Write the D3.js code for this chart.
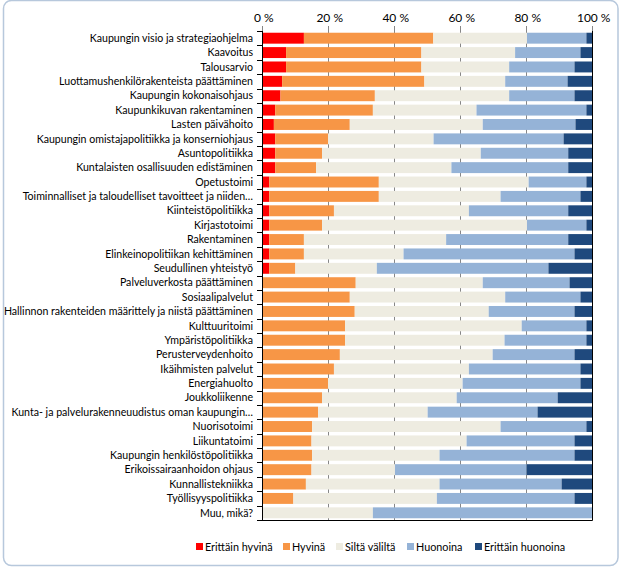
<!DOCTYPE html>
<html>
<head>
<meta charset="utf-8">
<script src="https://cdn.jsdelivr.net/npm/d3@7"></script>
<style>
  html, body { margin: 0; padding: 0; background: #fff; }
  svg text { font-family: Lato, 'Open Sans', sans-serif; fill: #000; }
</style>
</head>
<body>
<div id="chart"></div>
<script>
// categories, top to bottom
const categories = [
  'Kaupungin visio ja strategiaohjelma',
  'Kaavoitus',
  'Talousarvio',
  'Luottamushenkilörakenteista päättäminen',
  'Kaupungin kokonaisohjaus',
  'Kaupunkikuvan rakentaminen',
  'Lasten päivähoito',
  'Kaupungin omistajapolitiikka ja konserniohjaus',
  'Asuntopolitiikka',
  'Kuntalaisten osallisuuden edistäminen',
  'Opetustoimi',
  'Toiminnalliset ja taloudelliset tavoitteet ja niiden…',
  'Kiinteistöpolitiikka',
  'Kirjastotoimi',
  'Rakentaminen',
  'Elinkeinopolitiikan kehittäminen',
  'Seudullinen yhteistyö',
  'Palveluverkosta päättäminen',
  'Sosiaalipalvelut',
  'Hallinnon rakenteiden määrittely ja niistä päättäminen',
  'Kulttuuritoimi',
  'Ympäristöpolitiikka',
  'Perusterveydenhoito',
  'Ikäihmisten palvelut',
  'Energiahuolto',
  'Joukkoliikenne',
  'Kunta- ja palvelurakenneuudistus oman kaupungin…',
  'Nuorisotoimi',
  'Liikuntatoimi',
  'Kaupungin henkilöstöpolitiikka',
  'Erikoissairaanhoidon ohjaus',
  'Kunnallistekniikka',
  'Työllisyyspolitiikka',
  'Muu, mikä?'
];

const seriesNames = ['Erittäin hyvinä', 'Hyvinä', 'Siltä väliltä', 'Huonoina', 'Erittäin huonoina'];
const seriesColors = ['#ff0000', '#f79646', '#eeece1', '#95b3d7', '#1f497d'];

// shares in percent, one array per answer
const erittainHyvina = [12.7, 7.3, 7.3, 6.1, 5.6, 4.0, 3.6, 4.0, 4.0, 4.0, 2.2, 2.2, 2.2, 2.2, 2.2, 2.2, 2.2,
  0, 0, 0, 0, 0, 0, 0, 0, 0, 0, 0, 0, 0, 0, 0, 0, 0];
const hyvina = [39.2, 41.0, 41.0, 43.1, 28.6, 29.6, 23.0, 16.0, 14.2, 12.4, 33.2, 33.2, 19.6, 16.0, 10.5, 10.5, 7.9,
  28.4, 26.6, 28.1, 25.2, 25.2, 23.6, 21.8, 20.0, 18.2, 17.0, 15.2, 15.0, 15.2, 15.0, 13.3, 9.5, 0];
const siltaValilta = [28.4, 28.4, 26.6, 24.5, 40.7, 31.4, 40.3, 32.0, 48.1, 41.0, 45.4, 36.9, 40.9, 62.1, 43.1, 30.2, 24.7,
  38.5, 47.1, 40.6, 53.5, 48.3, 46.3, 40.9, 40.8, 40.8, 33.2, 57.1, 47.0, 38.6, 25.3, 40.5, 43.5, 33.6];
const huonoina = [18.0, 19.8, 19.8, 18.9, 19.8, 33.3, 28.1, 39.4, 26.5, 35.4, 17.5, 24.2, 30.1, 18.0, 37.0, 51.8, 52.0,
  26.3, 22.8, 26.0, 19.6, 24.8, 24.8, 33.8, 35.7, 30.6, 33.3, 26.0, 32.7, 40.9, 39.9, 37.0, 41.7, 66.4];
const erittainHuonoina = [1.7, 3.5, 5.3, 7.4, 5.3, 1.7, 5.0, 8.6, 7.2, 7.2, 1.7, 3.5, 7.2, 1.7, 7.2, 5.3, 13.2,
  6.8, 3.5, 5.3, 1.7, 1.7, 5.3, 3.5, 3.5, 10.4, 16.5, 1.7, 5.3, 5.3, 19.8, 9.2, 5.3, 0];

const xTicks = [0, 20, 40, 60, 80, 100];

const width = 622, height = 567;
const margin = {top: 31, right: 30, bottom: 47, left: 262};
const innerWidth = width - margin.left - margin.right,
      innerHeight = height - margin.top - margin.bottom;

const seriesValues = [erittainHyvina, hyvina, siltaValilta, huonoina, erittainHuonoina];
const rows = categories.map((c, i) => {
  const row = {category: c};
  seriesNames.forEach((s, j) => { row[s] = seriesValues[j][i]; });
  return row;
});

const stacked = d3.stack()
  .keys(seriesNames)
  .offset(d3.stackOffsetExpand)(rows);

const svg = d3.select('#chart')
  .append('svg')
  .attr('width', width)
  .attr('height', height);

// chart frame
svg.append('rect')
  .attr('x', 3.5)
  .attr('y', 0.5)
  .attr('width', 614.5)
  .attr('height', 565)
  .attr('rx', 8)
  .style('fill', '#fff')
  .style('stroke', '#b7c8dc')
  .style('stroke-width', 1.5);

const xScale = d3.scaleLinear()
  .domain([0, 1])
  .range([0, innerWidth]);

const yScale = d3.scaleBand()
  .domain(categories)
  .range([0, innerHeight])
  .paddingInner(0.24)
  .paddingOuter(0.12);

const g = svg.append('g')
  .attr('transform', `translate(${margin.left},${margin.top})`);

// vertical grid lines
g.append('g')
  .classed('grid', true)
  .selectAll('line')
  .data(xTicks)
  .join('line')
  .attr('x1', d => xScale(d / 100) + 0.5)
  .attr('x2', d => xScale(d / 100) + 0.5)
  .attr('y1', 0)
  .attr('y2', innerHeight)
  .style('stroke', '#878787')
  .style('stroke-width', 1);

// the bars
g.append('g')
  .classed('bars', true)
  .selectAll('g')
  .data(stacked)
  .join('g')
  .attr('fill', (d, i) => seriesColors[i])
  .selectAll('rect')
  .data(d => d)
  .join('rect')
  .attr('x', d => xScale(d[0]))
  .attr('width', d => xScale(d[1]) - xScale(d[0]))
  .attr('y', d => yScale(d.data.category))
  .attr('height', yScale.bandwidth());

// top axis with percent labels
const xAxis = d3.axisTop(xScale)
  .tickValues(xTicks.map(d => d / 100))
  .tickFormat(d => `${Math.round(d * 100)} %`)
  .tickSizeInner(5)
  .tickSizeOuter(0)
  .tickPadding(4);

const xAxisG = g.append('g')
  .attr('class', 'x axis')
  .call(xAxis);
xAxisG.select('.domain').remove();
xAxisG.selectAll('line').style('stroke', '#878787');
xAxisG.selectAll('text')
  .style('font-size', '12px')
  .style('font-family', 'Lato, sans-serif')
  .attr('dx', '0.1em');

// left category axis: line plus ticks between bands
const step = yScale.step();
const yAxisG = g.append('g').attr('class', 'y axis');
yAxisG.append('line')
  .attr('x1', 0.5).attr('x2', 0.5)
  .attr('y1', 0).attr('y2', innerHeight)
  .style('stroke', '#000');
yAxisG.selectAll('.btick')
  .data(d3.range(categories.length + 1))
  .join('line')
  .attr('class', 'btick')
  .attr('x1', -5).attr('x2', 0.5)
  .attr('y1', i => Math.round(i * step) + 0.5)
  .attr('y2', i => Math.round(i * step) + 0.5)
  .style('stroke', '#000');

yAxisG.selectAll('text')
  .data(categories)
  .join('text')
  .attr('x', -9)
  .attr('y', d => yScale(d) + yScale.bandwidth() / 2)
  .attr('dy', '0.35em')
  .attr('text-anchor', 'end')
  .style('font-size', '10.6px')
  .text(d => d);

// bottom and right edge of the plot
g.append('line')
  .attr('x1', 0).attr('x2', innerWidth + 0.5)
  .attr('y1', innerHeight + 0.5).attr('y2', innerHeight + 0.5)
  .style('stroke', '#000');
g.append('line')
  .attr('x1', innerWidth + 0.5).attr('x2', innerWidth + 0.5)
  .attr('y1', 0).attr('y2', innerHeight + 0.5)
  .style('stroke', '#000');

// legend
const legendX = [196, 283, 336, 407, 475];
const legend = svg.append('g').classed('legend', true);
seriesNames.forEach((s, i) => {
  legend.append('rect')
    .attr('x', legendX[i])
    .attr('y', 543)
    .attr('width', 7)
    .attr('height', 7)
    .attr('fill', seriesColors[i]);
  legend.append('text')
    .attr('x', legendX[i] + 9)
    .attr('y', 547)
    .attr('dy', '0.35em')
    .style('font-size', '10.8px')
    .text(s);
});
</script>
</body>
</html>
